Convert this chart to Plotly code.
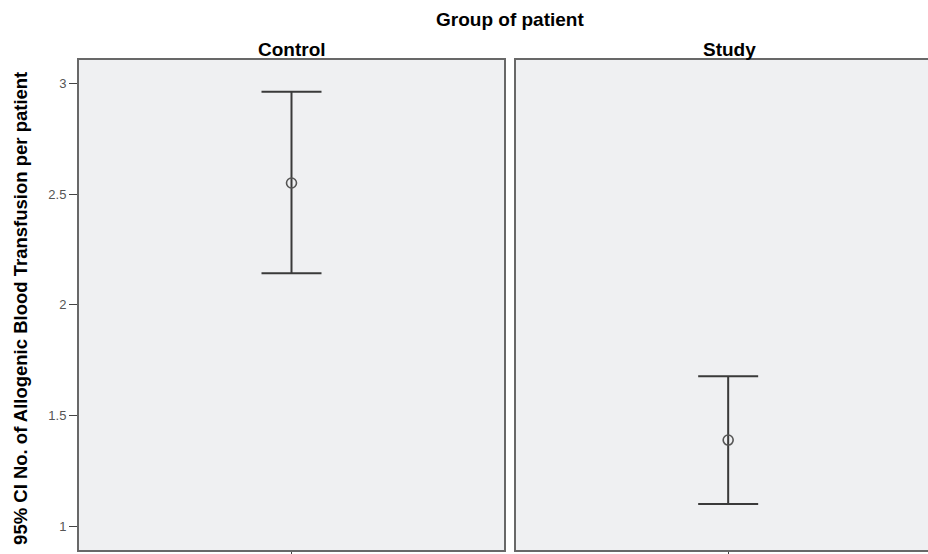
import plotly.graph_objects as go

groups = ["Control", "Study"]
means = [2.551, 1.389]
upper = [2.963, 1.677]
lower = [2.143, 1.100]
y_ticks = [1, 1.5, 2, 2.5, 3]
y_tick_labels = ["1", "1.5", "2", "2.5", "3"]

W, H = 928, 554
px = lambda v: v / W
py = lambda v: (H - v) / H

fig = go.Figure()
axes = [("x", "y"), ("x2", "y2")]
for i, g in enumerate(groups):
    xa, ya = axes[i]
    fig.add_trace(go.Scatter(
        x=[0], y=[means[i]], xaxis=xa, yaxis=ya, mode="markers",
        marker=dict(symbol="circle-open", size=10, color="#555555", line=dict(width=1.6)),
        error_y=dict(type="data", symmetric=False,
                     array=[upper[i] - means[i]], arrayminus=[means[i] - lower[i]],
                     color="#3a3a3a", thickness=2, width=30),
        showlegend=False, hoverinfo="skip"))

line_col = "#686868"
common_y = dict(range=[0.892, 3.108], domain=[py(552), py(60)], zeroline=False,
                showgrid=False, showline=True, linecolor=line_col, linewidth=2)
common_x = dict(zeroline=False, showgrid=False, showline=True, linecolor=line_col,
                linewidth=2, tickvals=[0], ticktext=[""], ticks="outside",
                ticklen=4, tickcolor="#444444", mirror=True)

fig.update_layout(
    width=W, height=H, margin=dict(l=0, r=0, t=0, b=0),
    paper_bgcolor="white", plot_bgcolor="#eff0f2",
    font=dict(family="Liberation Sans, Arial, sans-serif", color="#000000"),
    xaxis=dict(domain=[px(79), px(504)], range=[-0.5, 0.5], **common_x),
    yaxis=dict(anchor="x", tickvals=y_ticks, ticktext=y_tick_labels, ticks="outside",
               ticklen=8, tickcolor="#444444", tickfont=dict(size=13, color="#555555"),
               mirror=True, **common_y),
    xaxis2=dict(domain=[px(516), 1], range=[-0.499, 0.47], anchor="y2", **common_x),
    yaxis2=dict(anchor="x2", showticklabels=False, ticks="", mirror=False, **common_y),
)

annotations = [
    dict(text="<b>Group of patient</b>", x=px(510), y=py(20), xref="paper", yref="paper",
         showarrow=False, font=dict(size=19), xanchor="center", yanchor="middle"),
    dict(text="<b>Control</b>", x=px(292), y=py(50), xref="paper", yref="paper",
         showarrow=False, font=dict(size=19), xanchor="center", yanchor="middle"),
    dict(text="<b>Study</b>", x=px(729), y=py(50), xref="paper", yref="paper",
         showarrow=False, font=dict(size=19), xanchor="center", yanchor="middle"),
    dict(text="<b>95% CI No. of Allogenic Blood Transfusion per patient</b>",
         x=px(21), y=py(310), xref="paper", yref="paper", textangle=-90,
         showarrow=False, font=dict(size=18.5),
         xanchor="center", yanchor="middle"),
]
fig.update_layout(annotations=annotations)

fig.write_html("out.html", config={"displayModeBar": False},
               post_script="document.body.style.margin='0px';document.body.style.overflow='hidden';")
